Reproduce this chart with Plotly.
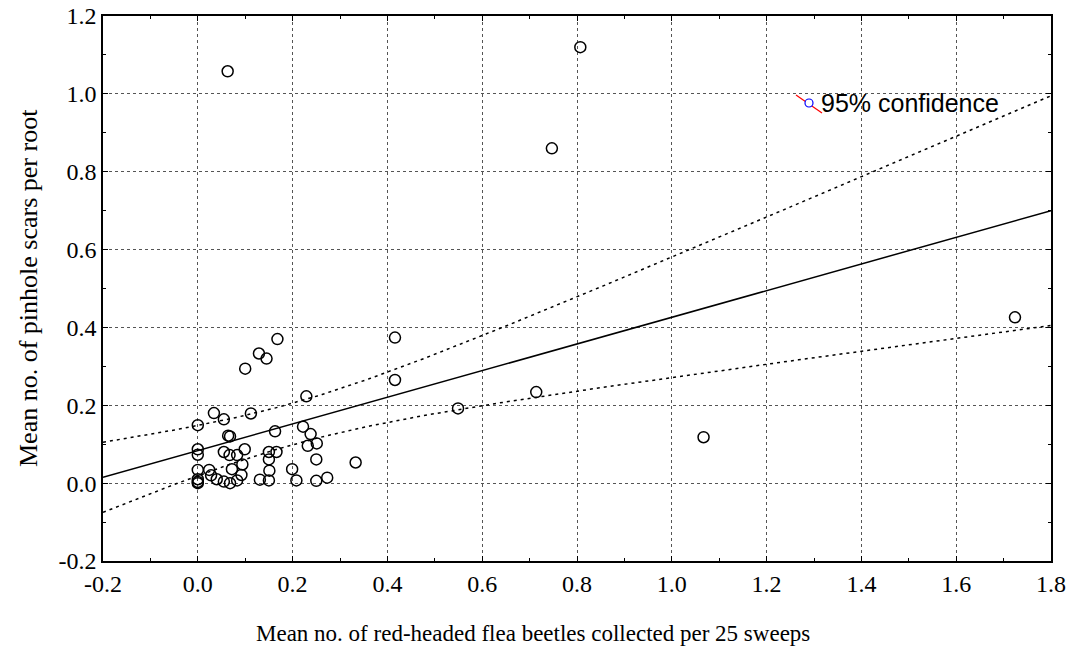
import numpy as np
import plotly.graph_objects as go

# Observed means (x: beetles per 25 sweeps, y: pinhole scars per root)
beetles = [0.063, 0.807, 0.747, 1.724, 1.067, 0.714, 0.549, 0.416, 0.416, 0.168,
           0.129, 0.145, 0.100, 0.229, 0.000, 0.034, 0.055, 0.112, 0.064, 0.068,
           0.163, 0.222, 0.238, 0.232, 0.251, 0.250, 0.333, 0.000, 0.000, 0.000,
           0.000, 0.000, 0.000, 0.024, 0.028, 0.040, 0.055, 0.068, 0.083, 0.055,
           0.067, 0.083, 0.099, 0.094, 0.072, 0.092, 0.150, 0.150, 0.166, 0.151,
           0.131, 0.150, 0.199, 0.208, 0.250, 0.273]
scars = [1.058, 1.120, 0.860, 0.426, 0.118, 0.234, 0.192, 0.374, 0.265, 0.370,
         0.333, 0.320, 0.294, 0.223, 0.149, 0.180, 0.164, 0.179, 0.122, 0.120,
         0.133, 0.145, 0.126, 0.096, 0.102, 0.061, 0.053, 0.087, 0.073, 0.034,
         0.010, 0.003, 0.000, 0.034, 0.020, 0.010, 0.004, 0.000, 0.007, 0.080,
         0.072, 0.072, 0.087, 0.048, 0.036, 0.021, 0.080, 0.061, 0.080, 0.032,
         0.009, 0.007, 0.036, 0.007, 0.006, 0.014]

# Regression line and 95% confidence band parameters
intercept = 0.0835
slope = 0.3425
ci_a = 0.00284
ci_b = 0.0329
x_center = 0.2

x_range = [-0.2, 1.8]
y_range = [-0.2, 1.2]
x_ticks = [-0.2, 0.0, 0.2, 0.4, 0.6, 0.8, 1.0, 1.2, 1.4, 1.6, 1.8]
x_ticklabels = ["-0.2", "0.0", "0.2", "0.4", "0.6", "0.8", "1.0", "1.2", "1.4", "1.6", "1.8"]
y_ticks = [-0.2, 0.0, 0.2, 0.4, 0.6, 0.8, 1.0, 1.2]
y_ticklabels = ["-0.2", "0.0", "0.2", "0.4", "0.6", "0.8", "1.0", "1.2"]
x_title = "Mean no. of red-headed flea beetles collected per 25 sweeps"
y_title = "Mean no. of pinhole scars per root"

xs = np.linspace(x_range[0], x_range[1], 200)
fit = intercept + slope * xs
half = np.sqrt(ci_a + ci_b * (xs - x_center) ** 2)

fig = go.Figure()
fig.add_trace(go.Scatter(x=xs, y=fit + half, mode="lines",
                         line=dict(color="black", width=1.5, dash="3px,4px"), hoverinfo="skip"))
fig.add_trace(go.Scatter(x=xs, y=fit - half, mode="lines",
                         line=dict(color="black", width=1.5, dash="3px,4px"), hoverinfo="skip"))
fig.add_trace(go.Scatter(x=xs, y=fit, mode="lines",
                         line=dict(color="black", width=1.5), hoverinfo="skip"))
fig.add_trace(go.Scatter(x=beetles, y=scars, mode="markers",
                         marker=dict(symbol="circle-open", size=11, color="black",
                                     line=dict(width=1.5, color="black"))))

serif = "Liberation Serif, Times New Roman, serif"
axis_common = dict(
    showline=True, linecolor="black", linewidth=1.5, mirror="allticks",
    ticks="inside", ticklen=5, tickwidth=1, tickcolor="black",
    showgrid=True, gridcolor="#555555", gridwidth=1, griddash="dot",
    zeroline=False, tickfont=dict(family=serif, size=24, color="black"),
    minor=dict(ticks="inside", ticklen=3, tickcolor="black", showgrid=False),
    automargin=False, ticklabeloverflow="allow",
)
fig.update_xaxes(range=x_range, tickvals=x_ticks, ticktext=x_ticklabels,
                 minor_dtick=0.1, minor_tick0=0, **axis_common)
fig.update_yaxes(range=y_range, tickvals=y_ticks, ticktext=y_ticklabels,
                 minor_dtick=0.1, minor_tick0=0, **axis_common)

# Axis titles as annotations (paper coords relative to plot box 103..1051 x 16..561)
fig.add_annotation(text=x_title, xref="paper", yref="paper",
                   x=(533 - 103) / 948, y=-(633 - 561) / 545,
                   xanchor="center", yanchor="middle", showarrow=False,
                   font=dict(family=serif, size=23, color="black"))
fig.add_annotation(text=y_title, xref="paper", yref="paper", textangle=-90,
                   x=(28 - 103) / 948, y=(561 - 288) / 545,
                   xanchor="center", yanchor="middle", showarrow=False,
                   font=dict(family=serif, size=26, color="black"))

# Legend decoration (confidence band key)
fig.add_shape(type="line", xref="paper", yref="paper",
              x0=(796 - 103) / 948, x1=(822 - 103) / 948,
              y0=(561 - 95) / 545, y1=(561 - 113) / 545,
              line=dict(color="red", width=1.2))
fig.add_shape(type="circle", xref="paper", yref="paper",
              x0=(805 - 103) / 948, x1=(813 - 103) / 948,
              y0=(561 - 99) / 545, y1=(561 - 107) / 545,
              line=dict(color="blue", width=1.2), fillcolor="white")
fig.add_annotation(text="95% confidence", xref="paper", yref="paper",
                   x=(819 - 103) / 948, y=(561 - 103) / 545,
                   xanchor="left", yanchor="middle", showarrow=False,
                   font=dict(family="Liberation Sans, Arial, sans-serif", size=25, color="black"))

fig.update_layout(
    width=1075, height=649,
    margin=dict(l=103, r=24, t=16, b=88),
    plot_bgcolor="white", paper_bgcolor="white",
    showlegend=False,
)

# Remove the default page margin so the figure sits at the window origin
fig.write_html("out.html", config={"displayModeBar": False},
               post_script="document.body.style.margin='0';document.body.style.overflow='hidden';")
